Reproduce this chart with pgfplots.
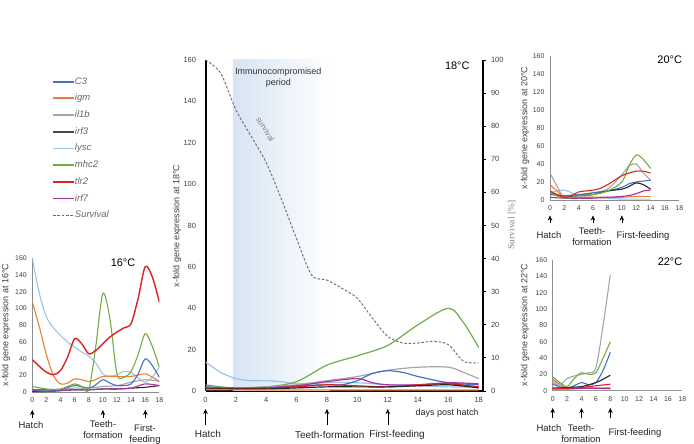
\documentclass[border=0pt]{standalone}
\usepackage{pgfplots}
\pgfplotsset{compat=1.18}
\usepackage{fontspec}
\setmainfont{Liberation Sans}
\newfontfamily\seriffont{Liberation Serif}
\usetikzlibrary{arrows.meta}
\definecolor{cCthree}{HTML}{4472C4}
\definecolor{cigm}{HTML}{ED7D31}
\definecolor{cilb}{HTML}{A5A5A5}
\definecolor{cirf}{HTML}{262626}
\definecolor{clysc}{HTML}{9DC3E6}
\definecolor{cmhc}{HTML}{70AD47}
\definecolor{ctlr}{HTML}{DD2222}
\definecolor{cirfseven}{HTML}{A8329F}
\definecolor{cshade}{HTML}{D6E4F3}
\pgfplotsset{
  smallpanel/.style={scale only axis, xmin=0, xmax=18, ymin=0, ymax=160,
    axis x line*=bottom, axis y line*=left,
    axis line style={black!45, line width=0.8bp, -},
    xtick={0,2,...,18}, ytick={0,20,...,160}, major tick length=0,
    tick label style={font=\fontsize{7}{8}\selectfont, text=black!75},
    yticklabel style={xshift=-2bp}, xticklabel style={yshift=-2bp},
    /pgf/number format/assume math mode=true,
    every axis plot/.append style={smooth, line width=1.1bp, no marks}},
}
\tikzset{arr/.style={-{Stealth[length=5bp,width=4.5bp]}, line width=0.5bp, black},
  lab/.style={font=\fontsize{9.5}{11.5}\selectfont, text=black!85, align=center, inner sep=0pt}}
\begin{document}
\begin{tikzpicture}[x=1bp,y=1bp]
\path[use as bounding box] (0bp,0bp) rectangle (694bp,444bp);

% ---------------- main 18 C panel ----------------
\begin{axis}[at={(205.5bp,53bp)}, anchor=south west, scale only axis,
  width=277bp, height=331bp, xmin=0, xmax=18.25, ymin=0, ymax=160,
  axis x line*=bottom, axis y line*=left,
  axis line style={line width=2bp, black, -},
  xtick={0,2,...,18}, ytick={0,20,...,160}, major tick length=0,
  tick label style={font=\fontsize{7.5}{9}\selectfont, text=black!75},
  yticklabel style={xshift=-6bp}, xticklabel style={yshift=-3bp},
  /pgf/number format/assume math mode=true,
  every axis plot/.append style={smooth, line width=1.2bp, no marks}]
\fill[left color=cshade, right color=white] (axis cs:1.8,0) rectangle (axis cs:8.2,160);
\addplot[clysc] coordinates {(0,14)(1,9)(2,6)(3,5)(4,5)(5,4.5)(6,3.5)(8,4)(10,4)(12,3)(14,2.5)(16,2)(18,2)};
\addplot[cmhc] coordinates {(0,3)(1,2)(2,1.5)(4,2)(6,4.5)(8,12.5)(10,17)(12,22)(14,32)(16,40)(17,33)(18,21)};
\addplot[cilb] coordinates {(0,2)(2,1.5)(4,2)(6,3)(8,5)(10,7)(12,10)(14,11.5)(16,11.5)(17,9)(18,6)};
\addplot[cCthree] coordinates {(0,2)(2,1.5)(4,1.5)(6,2.5)(8,3)(9,3)(10,5)(11,8.5)(12,9.8)(13,9)(14,7)(16,4)(18,3)};
\addplot[cirfseven] coordinates {(0,1)(2,1)(4,1.5)(6,2.5)(8,4.5)(10,6)(11,4)(12,3)(14,3)(16,4)(18,3.5)};
\addplot[ctlr] coordinates {(0,1.5)(2,1)(4,1.5)(6,2)(8,3)(10,2.5)(12,2)(14,3)(16,3.5)(18,2)};
\addplot[cirf] coordinates {(0,1)(2,1)(4,1)(6,1.5)(8,2)(10,2)(12,2)(14,2.5)(16,3)(18,1.5)};
\addplot[cigm] coordinates {(0,0.6)(4,0.5)(8,0.5)(12,0.5)(16,0.5)(18,0.5)};
\node[font=\fontsize{9}{11}\selectfont, text=black!80, align=center, anchor=north] at (axis cs:4.8,158) {Immunocompromised\\period};
\end{axis}

\begin{axis}[at={(205.5bp,53bp)}, anchor=south west, scale only axis,
  width=277bp, height=331bp, xmin=0, xmax=18.25, ymin=0, ymax=100,
  axis x line=none, axis y line*=right,
  axis line style={line width=2bp, black, -},
  ytick={0,10,...,100}, tick align=outside, major tick length=3bp,
  tick style={black, line width=0.8bp},
  tick label style={font=\fontsize{7.5}{9}\selectfont, text=black!75},
  yticklabel style={xshift=2bp},
  /pgf/number format/assume math mode=true]
\addplot[smooth, no marks, black!55, line width=1bp, dash pattern=on 2.5bp off 1.8bp] coordinates {
(0,100)(1,96)(2,85)(3,77)(4,69)(5,58)(6,46)(7,35)(8,33.5)(9,31)(10,28)(11,22)(12,16.5)(13,14.5)(14,14.5)(15,15)(16,14)(17,9)(18,8.5)};
\node[rotate=-58, font=\fontsize{8}{10}\selectfont, text=black!50] at (axis cs:3.95,79) {survival};
\end{axis}

% ---------------- 16 C ----------------
\begin{axis}[smallpanel, at={(32.3bp,51.7bp)}, anchor=south west, width=127bp, height=134bp]
\addplot[clysc] coordinates {(0,160)(1,118)(2,90)(3,77)(4,68)(5,60)(6,54)(7,48)(8,43)(9,35)(10,22)(11,19)(12,21)(13,25)(14,24)(15,17)(16,12)(17,18)(18,30)};
\addplot[cigm] coordinates {(0,108)(1,78)(2,45)(3,20)(4,10)(5,11)(6,16)(7,15)(8,13)(9,15)(10,19)(12,19)(14,19)(16,22)(17,18)(18,13)};
\addplot[cilb] coordinates {(0,3)(2,2)(4,3)(6,5)(8,5)(10,7)(12,8)(14,12)(16,15)(18,13)};
\addplot[cirf] coordinates {(0,1)(2,1)(4,2)(6,3)(8,3)(10,4)(12,4)(14,5)(16,6)(18,8)};
\addplot[cirfseven] coordinates {(0,2)(2,1)(4,2)(6,3)(8,3)(10,4)(12,4)(14,5)(16,10)(18,8)};
\addplot[cCthree] coordinates {(0,3)(2,3)(4,3)(6,8)(8,5)(9,9)(10,15)(11,11)(12,8)(13,8)(14,10)(15,22)(16,40)(17,32)(18,18)};
\addplot[cmhc] coordinates {(0,7)(2,4)(4,4)(6,10)(7,7)(8,3)(9,55)(10,118)(11,88)(12,22)(13,18)(14,25)(15,45)(16,70)(17,55)(18,30)};
\addplot[ctlr, line width=1.4bp] coordinates {(0,39)(1,31)(2,24)(3,21)(4,26)(5,42)(6,64)(7,58)(8,46)(9,50)(10,58)(11,66)(12,72)(13,77)(14,82)(15,112)(16,150)(17,138)(18,108)};
\end{axis}

% ---------------- 20 C ----------------
\begin{axis}[smallpanel, at={(550bp,244bp)}, anchor=south west, width=129.3bp, height=144bp]
\addplot[clysc] coordinates {(0,8)(1,10)(2,11)(3,8)(4,4)(6,3)(8,2)(10,1)(12,1)(14,1)};
\addplot[cigm] coordinates {(0,17)(1,10)(2,3)(4,3)(6,3)(8,3)(10,3)(12,4)(14,4)};
\addplot[cirfseven] coordinates {(0,3)(2,2)(4,2)(6,2)(8,3)(10,4)(11,5)(12,7)(13,10)(14,11)};
\addplot[cilb] coordinates {(0,30)(1,15)(2,3)(4,5)(6,8)(8,12)(10,28)(11,38)(12,40)(13,30)(14,22)};
\addplot[cCthree] coordinates {(0,6)(2,5)(4,6)(6,8)(8,10)(10,14)(11,18)(12,20)(14,22)};
\addplot[cirf] coordinates {(0,8)(2,3)(4,5)(6,6)(8,10)(10,12)(11,15)(12,19)(13,17)(14,12)};
\addplot[cmhc] coordinates {(0,8)(2,2)(4,5)(6,6)(8,10)(10,20)(11,38)(12,50)(13,45)(14,35)};
\addplot[ctlr] coordinates {(0,10)(1,6)(2,3)(3,5)(4,9)(5,10)(6,11)(7,13)(8,17)(9,22)(10,27)(11,30)(12,32)(13,32)(14,30)};
\end{axis}

% ---------------- 22 C ----------------
\begin{axis}[smallpanel, at={(552.7bp,53.3bp)}, anchor=south west, width=129.6bp, height=130.7bp,
  x axis line style={line width=1.6bp, black!40}]
\addplot[clysc] coordinates {(0,12)(2,4)(4,5)(6,3)(8,2)};
\addplot[cigm] coordinates {(0,14)(1,8)(2,3)(4,3)(6,3)(8,3)};
\addplot[cirfseven] coordinates {(0,2)(2,2)(4,3)(6,3)(8,3)};
\addplot[cilb] coordinates {(0,10)(1,7)(2,15)(3,18)(4,20)(5,22)(6,28)(7,80)(8,142)};
\addplot[cCthree] coordinates {(0,8)(2,3)(4,10)(5,7)(6,10)(7,25)(8,47)};
\addplot[cirf] coordinates {(0,3)(2,4)(4,5)(6,10)(7,14)(8,19)};
\addplot[cmhc] coordinates {(0,17)(1,10)(2,5)(3,15)(4,22)(5,20)(6,22)(7,40)(8,60)};
\addplot[ctlr] coordinates {(0,3)(2,3)(4,4)(6,6)(8,8)};
\end{axis}

% ---------------- legend ----------------
\begin{axis}[hide axis, at={(52bp,367bp)}, anchor=north west, scale only axis, width=10bp, height=10bp,
  xmin=0, xmax=1, ymin=0, ymax=1,
  legend style={at={(0,1)}, anchor=north west, draw=none, fill=none, inner sep=0pt,
    font=\itshape\fontsize{9.5}{11}\selectfont, text=black!60,
    nodes={inner sep=0pt, text height=7bp, text depth=2bp},
    row sep=7.7bp, /tikz/every even column/.append style={column sep=3bp}},
  legend cell align=left,
  legend image code/.code={\draw[#1] (0bp,0bp) -- (21bp,0bp);}]
\addlegendimage{cCthree, line width=1.8bp}\addlegendentry{C3}
\addlegendimage{cigm, line width=1.8bp}\addlegendentry{igm}
\addlegendimage{cilb, line width=1.8bp}\addlegendentry{il1b}
\addlegendimage{cirf!85, line width=1.8bp}\addlegendentry{irf3}
\addlegendimage{clysc, line width=1.8bp}\addlegendentry{lysc}
\addlegendimage{cmhc, line width=1.8bp}\addlegendentry{mhc2}
\addlegendimage{ctlr, line width=1.8bp}\addlegendentry{tlr2}
\addlegendimage{cirfseven, line width=1.8bp}\addlegendentry{irf7}
\addlegendimage{black!60, line width=1.1bp, dash pattern=on 2.5bp off 1.8bp}\addlegendentry{Survival}
\end{axis}

% ---------------- texts ----------------
\node[rotate=90, font=\fontsize{9}{10}\selectfont, text=black!75] at (177bp,218bp) {x-fold gene expression at 18°C};
\node[rotate=90, font=\fontsize{9}{10}\selectfont, text=black!75] at (6bp,119bp) {x-fold gene expression at 16°C};
\node[rotate=90, font=\fontsize{9}{10}\selectfont, text=black!75] at (525bp,316bp) {x-fold gene expression at 20°C};
\node[rotate=90, font=\fontsize{9}{10}\selectfont, text=black!75] at (525bp,119bp) {x-fold gene expression at 22°C};
\node[rotate=90, font=\seriffont\fontsize{9.5}{11}\selectfont, text=black!50] at (511.7bp,219bp) {Survival [\%]};

\node[font=\fontsize{11}{13}\selectfont, anchor=east] at (473bp,378bp) {18°C};
\node[font=\fontsize{11}{13}\selectfont] at (123bp,181bp) {16°C};
\node[font=\fontsize{11}{13}\selectfont] at (669.7bp,384bp) {20°C};
\node[font=\fontsize{11}{13}\selectfont] at (670bp,182.3bp) {22°C};

\node[font=\fontsize{9}{11}\selectfont, text=black!85, anchor=east] at (482bp,31bp) {days post hatch};

% main arrows and labels
\draw[arr] (205.5bp,19bp) -- (205.5bp,35bp);
\draw[arr] (327bp,19bp) -- (327bp,35bp);
\draw[arr] (387.8bp,19bp) -- (387.8bp,35bp);
\node[lab, font=\fontsize{10}{12}\selectfont] at (208bp,10bp) {Hatch};
\node[lab, font=\fontsize{10}{12}\selectfont] at (329.7bp,9bp) {Teeth-formation};
\node[lab, font=\fontsize{10}{12}\selectfont] at (397bp,9bp) {First-feeding};

% 16 C arrows
\draw[arr] (32.3bp,26bp) -- (32.3bp,34bp);
\draw[arr] (102.9bp,26bp) -- (102.9bp,34bp);
\draw[arr] (145.3bp,26bp) -- (145.3bp,34bp);
\node[lab] at (31bp,19bp) {Hatch};
\node[lab, anchor=north] at (103bp,24bp) {Teeth-\\formation};
\node[lab, anchor=north] at (145bp,20bp) {First-\\feeding};

% 20 C arrows
\draw[arr] (550bp,221bp) -- (550bp,228.5bp);
\draw[arr] (593bp,221bp) -- (593bp,228.5bp);
\draw[arr] (621.8bp,221bp) -- (621.8bp,228.5bp);
\node[lab] at (549bp,209bp) {Hatch};
\node[lab, anchor=north] at (592bp,217bp) {Teeth-\\formation};
\node[lab] at (643bp,208bp) {First-feeding};

% 22 C arrows
\draw[arr] (552.7bp,26bp) -- (552.7bp,36bp);
\draw[arr] (581.5bp,26bp) -- (581.5bp,36bp);
\draw[arr] (610.3bp,26bp) -- (610.3bp,36bp);
\node[lab] at (549bp,16bp) {Hatch};
\node[lab, anchor=north] at (581bp,20bp) {Teeth-\\formation};
\node[lab] at (635bp,11bp) {First-feeding};
\end{tikzpicture}
\end{document}
